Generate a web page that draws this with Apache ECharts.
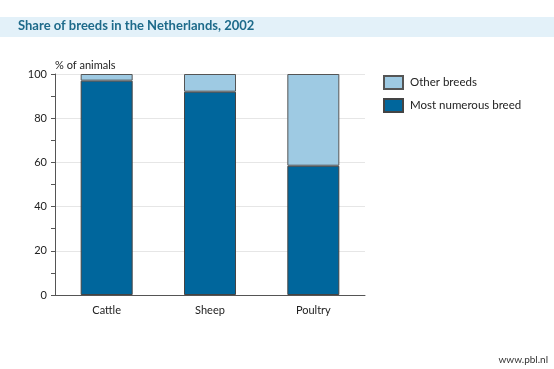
<!DOCTYPE html>
<html><head><meta charset="utf-8">
<script src="https://cdn.jsdelivr.net/npm/echarts@6/dist/echarts.min.js"></script>
<style>html,body{margin:0;padding:0;background:#fff}#c{width:554px;height:369px}</style>
</head><body><div id="c"></div>
<script>
const categories = ['Cattle', 'Sheep', 'Poultry'];
const mostNumerous = [97, 92, 58.5];
const otherBreeds = [3, 8, 41.5];
const yTicks = [0, 20, 40, 60, 80, 100];

const chart = echarts.init(document.getElementById('c'));
const font = 'Lato, "Open Sans", sans-serif';
chart.setOption({
  animation: false,
  graphic: [
    {type: 'rect', shape: {x: 0, y: 17, width: 554, height: 20}, style: {fill: '#e3f1f9'}, z: -1},
    {type: 'text', left: 18, top: 19, style: {text: 'Share of breeds in the Netherlands, 2002', font: 'bold 13px ' + font, fill: '#1d6a8a'}},
    {type: 'text', left: 55, top: 60, style: {text: '% of animals', font: '11px ' + font, fill: '#222'}},
    {type: 'text', right: 6, top: 355, style: {text: 'www.pbl.nl', font: '10px ' + font, fill: '#333'}}
  ],
  legend: {
    orient: 'vertical', left: 383, top: 75, padding: 0, itemWidth: 19, itemHeight: 13, itemGap: 8,
    icon: 'rect',
    textStyle: {fontFamily: font, fontSize: 11.5, color: '#222', padding: [0, 0, 0, 2]},
    data: ['Other breeds', 'Most numerous breed']
  },
  grid: {left: 55, right: 189, top: 74, bottom: 74},
  xAxis: {
    type: 'category', data: categories,
    axisLine: {lineStyle: {color: '#555'}},
    axisTick: {show: false},
    axisLabel: {fontFamily: font, fontSize: 11, color: '#222', margin: 10}
  },
  yAxis: {
    type: 'value', min: 0, max: 100, interval: 20,
    axisLine: {show: true, lineStyle: {color: '#555'}},
    axisTick: {show: true, inside: false, length: 4, lineStyle: {color: '#555'}},
    minorTick: {show: true, splitNumber: 2, length: 4, lineStyle: {color: '#555'}},
    splitLine: {lineStyle: {color: '#e6e6e6'}},
    axisLabel: {fontFamily: font, fontSize: 11, color: '#222', margin: 8,
      formatter: v => yTicks.includes(v) ? String(v) : ''}
  },
  series: [
    {name: 'Most numerous breed', type: 'bar', stack: 'a', data: mostNumerous, barWidth: 52,
     itemStyle: {color: '#00669c', borderColor: '#444', borderWidth: 1}},
    {name: 'Other breeds', type: 'bar', stack: 'a', data: otherBreeds, barWidth: 52,
     itemStyle: {color: '#9ecae3', borderColor: '#555', borderWidth: 1}}
  ]
});
</script></body></html>
